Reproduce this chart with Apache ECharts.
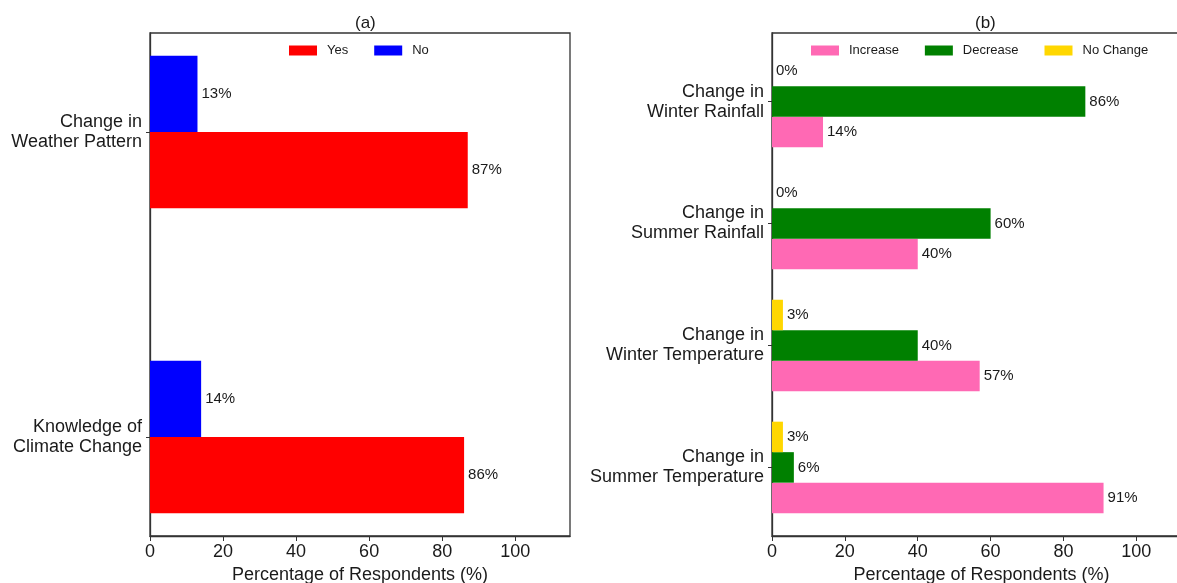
<!DOCTYPE html>
<html>
<head>
<meta charset="utf-8">
<script src="https://cdn.jsdelivr.net/npm/echarts@6/dist/echarts.min.js"></script>
<style>
  html, body { margin: 0; padding: 0; background: #fff; }
  #chart { width: 1177px; height: 583px; }
</style>
</head>
<body>
<div id="chart"></div>
<script>
// panel (a)
const catsA = ['Knowledge of\nClimate Change', 'Change in\nWeather Pattern']
const yesVals = [86, 87]
const noVals = [14, 13]

// panel (b)
const catsB = [
  'Change in\nSummer Temperature',
  'Change in\nWinter Temperature',
  'Change in\nSummer Rainfall',
  'Change in\nWinter Rainfall'
]
const increaseVals = [91, 57, 40, 14]
const decreaseVals = [6, 40, 60, 86]
const noChangeVals = [3, 3, 0, 0]

const xTicks = [0, 20, 40, 60, 80, 100]

const FONT = 'Liberation Sans, Arial, sans-serif'
const chart = echarts.init(document.getElementById('chart'))

// horizontal bar drawn through the axis scales; value[1] is category index + offset
function barRenderer(height) {
  return function (params, api) {
    const val = api.value(0)
    const pos = api.value(1)
    const p0 = api.coord([0, pos + height / 2])
    const p1 = api.coord([val, pos - height / 2])
    return {
      type: 'rect',
      shape: { x: p0[0], y: p0[1], width: p1[0] - p0[0], height: p1[1] - p0[1] },
      style: { fill: api.visual('color') },
      textContent: {
        style: { text: val + '%', fill: '#1a1a1a', font: '15px ' + FONT }
      },
      textConfig: { position: 'right', distance: 4 }
    }
  }
}

function barSeries(name, vals, offset, height, color, idx) {
  return {
    name: name,
    type: 'custom',
    xAxisIndex: idx,
    yAxisIndex: idx,
    clip: false,
    itemStyle: { color: color },
    renderItem: barRenderer(height),
    encode: { x: 0, y: 1 },
    data: vals.map((v, i) => [v, i + offset])
  }
}

function xAxisOpt(idx) {
  return {
    type: 'value',
    gridIndex: idx,
    min: 0,
    max: 115,
    name: 'Percentage of Respondents (%)',
    nameLocation: 'middle',
    nameGap: 27,
    nameTextStyle: { fontFamily: FONT, fontSize: 18, color: '#1a1a1a' },
    axisLine: { onZero: false, lineStyle: { color: '#333', width: 1.3 } },
    axisTick: { length: 5, lineStyle: { color: '#333' }, customValues: xTicks },
    axisLabel: { fontFamily: FONT, fontSize: 18, color: '#1a1a1a', margin: 7, customValues: xTicks },
    splitLine: { show: false }
  }
}

function yAxisOpt(idx, cats, min, max) {
  const ticks = cats.map((c, i) => i)
  return {
    type: 'value',
    gridIndex: idx,
    min: min,
    max: max,
    axisLine: { show: true, onZero: false, lineStyle: { color: '#333', width: 1.3 } },
    axisTick: { show: true, length: 4, lineStyle: { color: '#333' }, customValues: ticks },
    axisLabel: {
      fontFamily: FONT, fontSize: 18, color: '#1a1a1a', lineHeight: 20, margin: 8,
      align: 'right',
      customValues: ticks,
      formatter: v => cats[Math.round(v)]
    },
    splitLine: { show: false }
  }
}

const legendText = { fontFamily: FONT, fontSize: 13, color: '#1a1a1a', padding: [0, 0, 0, 5] }

const option = {
  animation: false,
  backgroundColor: '#fff',
  title: [
    { text: '(a)', left: 350, top: 10, textStyle: { fontFamily: FONT, fontSize: 17, fontWeight: 'normal', color: '#1a1a1a' } },
    { text: '(b)', left: 970, top: 10, textStyle: { fontFamily: FONT, fontSize: 17, fontWeight: 'normal', color: '#1a1a1a' } }
  ],
  legend: [
    {
      data: ['Yes', 'No'],
      left: 289, top: 44, padding: 0,
      icon: 'rect', itemWidth: 28, itemHeight: 10, itemGap: 26,
      textStyle: legendText
    },
    {
      data: ['Increase', 'Decrease', 'No Change'],
      left: 811, top: 44, padding: 0,
      icon: 'rect', itemWidth: 28, itemHeight: 10, itemGap: 26,
      textStyle: legendText
    }
  ],
  grid: [
    { left: 150, top: 33, width: 420, height: 503, outerBoundsMode: 'none', show: true, borderColor: '#333', borderWidth: 1.3, backgroundColor: 'transparent' },
    { left: 772, top: 33, width: 419, height: 503, outerBoundsMode: 'none', show: true, borderColor: '#333', borderWidth: 1.3, backgroundColor: 'transparent' }
  ],
  xAxis: [xAxisOpt(0), xAxisOpt(1)],
  yAxis: [
    yAxisOpt(0, catsA, -0.325, 1.325),
    yAxisOpt(1, catsB, -0.5625, 3.5625)
  ],
  series: [
    barSeries('Yes', yesVals, -0.125, 0.25, '#ff0000', 0),
    barSeries('No', noVals, 0.125, 0.25, '#0000ff', 0),
    barSeries('Increase', increaseVals, -0.25, 0.25, '#ff69b4', 1),
    barSeries('Decrease', decreaseVals, 0, 0.25, '#008000', 1),
    barSeries('No Change', noChangeVals, 0.25, 0.25, '#ffd700', 1)
  ]
}

chart.setOption(option)
</script>
</body>
</html>
